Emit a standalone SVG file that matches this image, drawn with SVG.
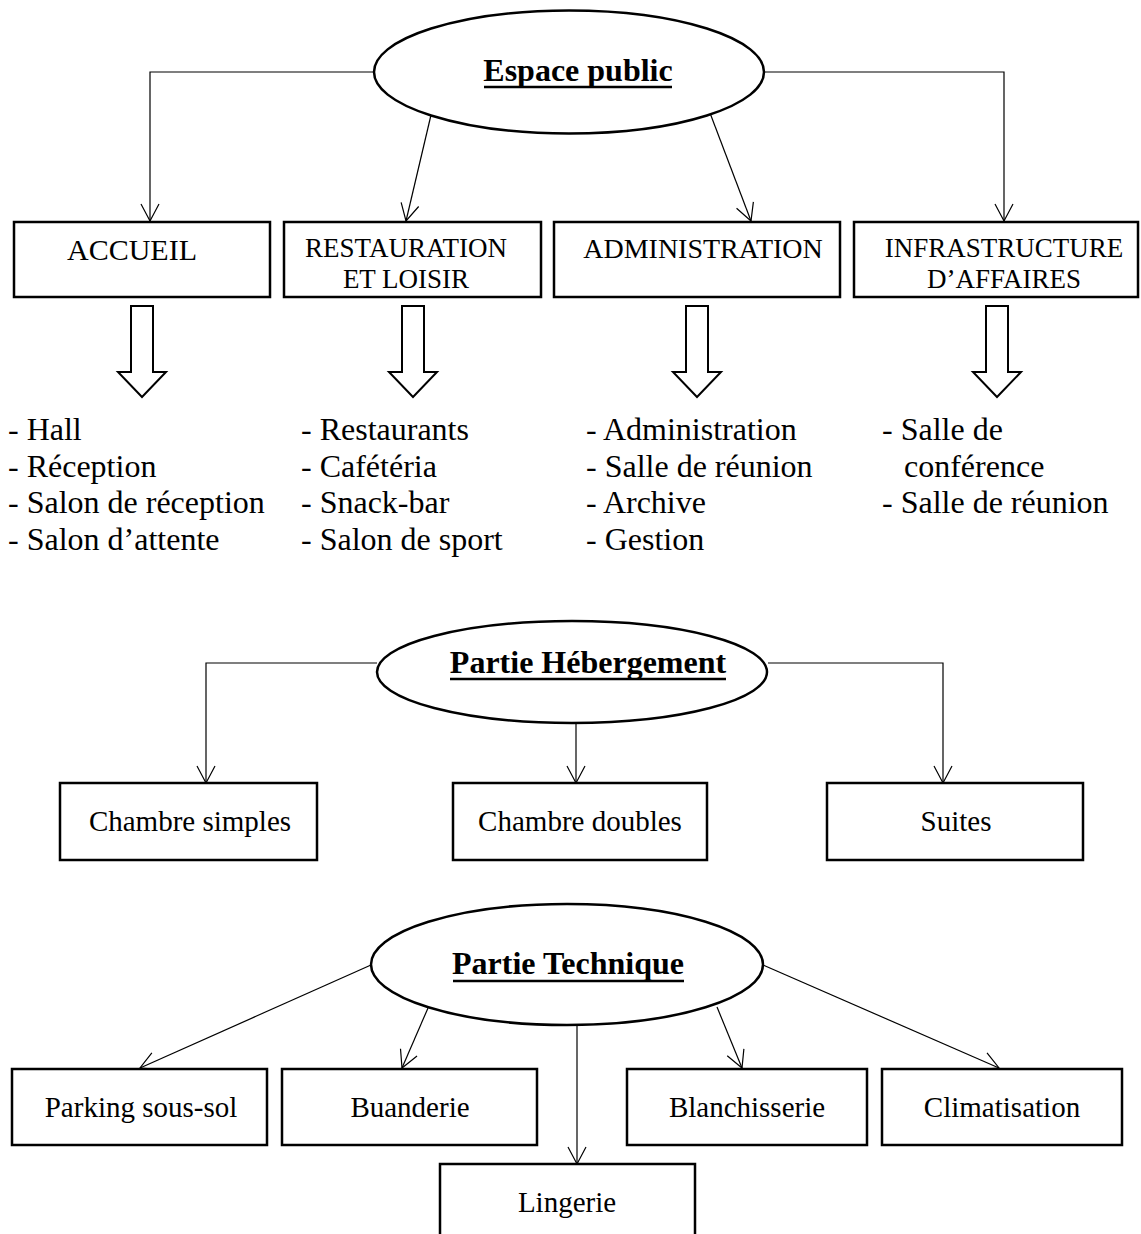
<svg xmlns="http://www.w3.org/2000/svg" width="1141" height="1234" viewBox="0 0 1141 1234">
<style>
  .t { font-family: "Liberation Serif", "Times New Roman", serif; fill: #000; }
  .title { font-weight: bold; font-size: 32px; text-anchor: middle; }
  .box { fill: #fff; stroke: #000; stroke-width: 2.5; }
  .ell { fill: #fff; stroke: #000; stroke-width: 2.5; }
  .conn { fill: none; stroke: #000; stroke-width: 1.2; marker-end: url(#arr); }
  .ul { stroke: #000; stroke-width: 2.5; }
  .blk { fill: #fff; stroke: #000; stroke-width: 2; }
  .lbl { font-size: 28px; text-anchor: middle; }
  .lbl2 { font-size: 29px; text-anchor: middle; }
  .lst { font-size: 32px; }
</style>
<defs>
  <marker id="arr" viewBox="-19 -11 21 22" refX="0" refY="0" markerWidth="21" markerHeight="22" markerUnits="userSpaceOnUse" orient="auto">
    <path d="M-17,-9 L0,0 L-17,9" fill="none" stroke="#000" stroke-width="1.2"/>
  </marker>
</defs>
<rect width="1141" height="1234" fill="#fff"/>

<g id="connectors">
  <path class="conn" d="M374,72 H150 V221"/>
  <path class="conn" d="M431,115 L406,221"/>
  <path class="conn" d="M710,113 L751,221"/>
  <path class="conn" d="M764,72 H1004 V221"/>
  <path class="conn" d="M377,663 H206 V783"/>
  <path class="conn" d="M576,723 V783"/>
  <path class="conn" d="M768,663 H943 V783"/>
  <path class="conn" d="M371,965 L140,1068"/>
  <path class="conn" d="M428,1008 L402,1068"/>
  <path class="conn" d="M577,1025 V1164"/>
  <path class="conn" d="M717,1007 L742,1068"/>
  <path class="conn" d="M763,965 L999,1068"/>
</g>

<g id="espace-public">
  <ellipse class="ell" cx="569" cy="72" rx="195" ry="61.5"/>
  <text class="t title" x="578" y="81">Espace public</text>
  <line class="ul" x1="484" y1="87" x2="672" y2="87"/>
</g>

<g id="accueil">
  <rect class="box" x="14" y="222" width="256" height="75"/>
  <text class="t" x="132" y="260" font-size="30" text-anchor="middle">ACCUEIL</text>
</g>
<g id="restauration">
  <rect class="box" x="284" y="222" width="257" height="75"/>
  <text class="t" x="406" y="257" font-size="27" text-anchor="middle">RESTAURATION</text>
  <text class="t" x="406" y="288" font-size="27" text-anchor="middle">ET LOISIR</text>
</g>
<g id="administration">
  <rect class="box" x="554" y="222" width="286" height="75"/>
  <text class="t" x="703" y="258" font-size="28" text-anchor="middle">ADMINISTRATION</text>
</g>
<g id="infrastructure">
  <rect class="box" x="854" y="222" width="284" height="75"/>
  <text class="t" x="1004" y="257" font-size="27" text-anchor="middle">INFRASTRUCTURE</text>
  <text class="t" x="1004" y="288" font-size="27" text-anchor="middle">D’AFFAIRES</text>
</g>

<g id="block-arrows">
  <path class="blk" d="M131,306 H153 V372 H166 L142,397 L118,372 H131 Z"/>
  <path class="blk" d="M402,306 H424 V372 H437 L413,397 L389,372 H402 Z"/>
  <path class="blk" d="M686,306 H708 V372 H721 L697,397 L673,372 H686 Z"/>
  <path class="blk" d="M986,306 H1008 V372 H1021 L997,397 L973,372 H986 Z"/>
</g>

<g id="liste-accueil">
  <text class="t lst" x="8" y="440">- Hall</text>
  <text class="t lst" x="8" y="477">- Réception</text>
  <text class="t lst" x="8" y="513">- Salon de réception</text>
  <text class="t lst" x="8" y="550">- Salon d’attente</text>
</g>
<g id="liste-restauration">
  <text class="t lst" x="301" y="440">- Restaurants</text>
  <text class="t lst" x="301" y="477">- Cafétéria</text>
  <text class="t lst" x="301" y="513">- Snack-bar</text>
  <text class="t lst" x="301" y="550">- Salon de sport</text>
</g>
<g id="liste-administration">
  <text class="t lst" x="586" y="440">- Administration</text>
  <text class="t lst" x="586" y="477">- Salle de réunion</text>
  <text class="t lst" x="586" y="513">- Archive</text>
  <text class="t lst" x="586" y="550">- Gestion</text>
</g>
<g id="liste-infrastructure">
  <text class="t lst" x="882" y="440">- Salle de</text>
  <text class="t lst" x="904" y="477">conférence</text>
  <text class="t lst" x="882" y="513">- Salle de réunion</text>
</g>

<g id="partie-hebergement">
  <ellipse class="ell" cx="572" cy="672" rx="195" ry="51"/>
  <text class="t title" x="588" y="673">Partie Hébergement</text>
  <line class="ul" x1="450" y1="679" x2="726" y2="679"/>
</g>
<g id="chambre-simples">
  <rect class="box" x="60" y="783" width="257" height="77"/>
  <text class="t lbl2" x="190" y="831">Chambre simples</text>
</g>
<g id="chambre-doubles">
  <rect class="box" x="453" y="783" width="254" height="77"/>
  <text class="t lbl2" x="580" y="831">Chambre doubles</text>
</g>
<g id="suites">
  <rect class="box" x="827" y="783" width="256" height="77"/>
  <text class="t lbl2" x="956" y="831">Suites</text>
</g>

<g id="partie-technique">
  <ellipse class="ell" cx="567" cy="964.5" rx="196" ry="60.5"/>
  <text class="t title" x="568" y="974">Partie Technique</text>
  <line class="ul" x1="453" y1="981" x2="684" y2="981"/>
</g>
<g id="parking">
  <rect class="box" x="12" y="1069" width="255" height="76"/>
  <text class="t lbl2" x="141" y="1117">Parking sous-sol</text>
</g>
<g id="buanderie">
  <rect class="box" x="282" y="1069" width="255" height="76"/>
  <text class="t lbl2" x="410" y="1117">Buanderie</text>
</g>
<g id="blanchisserie">
  <rect class="box" x="627" y="1069" width="240" height="76"/>
  <text class="t lbl2" x="747" y="1117">Blanchisserie</text>
</g>
<g id="climatisation">
  <rect class="box" x="882" y="1069" width="240" height="76"/>
  <text class="t lbl2" x="1002" y="1117">Climatisation</text>
</g>
<g id="lingerie">
  <rect class="box" x="440" y="1164" width="255" height="90"/>
  <text class="t lbl2" x="567" y="1212">Lingerie</text>
</g>
</svg>
